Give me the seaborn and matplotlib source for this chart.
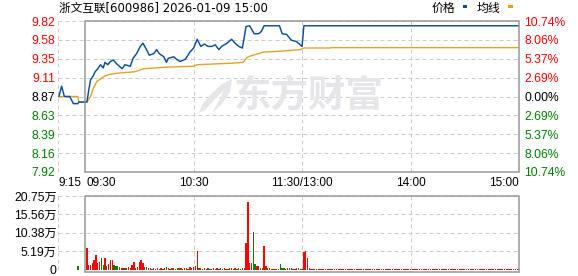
import matplotlib
matplotlib.use("Agg")
import matplotlib.pyplot as plt
from matplotlib.patches import Rectangle, Polygon
from matplotlib.lines import Line2D
import matplotlib.transforms as mtrans
import pandas as pd
import seaborn as sns

# ---------------- data ----------------
title_text = "浙文互联[600986] 2026-01-09 15:00"
prev_close = 8.87

price_tick_values = [9.82, 9.5825, 9.345, 9.1075, 8.87, 8.6325, 8.395, 8.1575, 7.92]
price_tick_labels = ["9.82", "9.58", "9.35", "9.11", "8.87", "8.63", "8.39", "8.16", "7.92"]
pct_tick_labels = ["10.74%", "8.06%", "5.37%", "2.69%", "0.00%", "2.69%", "5.37%", "8.06%", "10.74%"]

vol_tick_values = [20.75, 15.56, 10.38, 5.19, 0]
vol_tick_labels = ["20.75万", "15.56万", "10.38万", "5.19万", "0"]

time_label_minutes = [-15, 0, 60, 120, 180, 240]
time_labels = ["9:15", "09:30", "10:30", "11:30/13:00", "14:00", "15:00"]

# price line (minutes from 09:30, trading minutes; 13:00 follows 11:30)
price_minutes = [-14.5, -13, -11.5, -8.5, -6.5, -4, -3.5, 1, 2, 3, 4.5, 5.5, 7, 8.5, 10, 11,
                 12.5, 14, 15.5, 17.5, 20.5, 22, 25, 26.5, 28.5, 30.5, 32, 33.5, 35.5, 38,
                 39.5, 41, 43.5, 45, 46, 49, 50.5, 52.5, 55.5, 58, 60, 62, 64, 66, 68, 70,
                 72, 74, 75.5, 78.5, 81, 83, 85, 87, 89, 91, 93.5, 96, 97.5, 99, 107.5, 109,
                 111.5, 114, 117, 120, 121, 240]
price_values = [8.87, 9.00, 8.87, 8.87, 8.78, 8.78, 8.80, 8.80, 8.95, 9.08, 9.13, 9.18, 9.22,
                9.27, 9.23, 9.30, 9.27, 9.31, 9.33, 9.28, 9.22, 9.27, 9.25, 9.35, 9.41, 9.50,
                9.54, 9.48, 9.39, 9.41, 9.46, 9.41, 9.37, 9.30, 9.35, 9.37, 9.34, 9.31, 9.34,
                9.43, 9.48, 9.59, 9.50, 9.53, 9.50, 9.50, 9.52, 9.46, 9.50, 9.54, 9.59, 9.54,
                9.50, 9.48, 9.75, 9.76, 9.66, 9.66, 9.69, 9.76, 9.76, 9.66, 9.65, 9.58, 9.56,
                9.50, 9.76, 9.76]

avg_minutes = [-14.5, -4, -3.5, 1, 3, 4.5, 6.5, 8.5, 11, 14, 17, 21, 27, 30, 32.5, 39, 45,
               52, 60, 62, 82, 87.5, 89.5, 91.5, 99, 108, 119, 121, 135, 136.5, 240]
avg_values = [8.87, 8.87, 8.80, 8.80, 8.87, 8.97, 9.06, 9.09, 9.13, 9.15, 9.16, 9.17, 9.18,
              9.20, 9.22, 9.23, 9.24, 9.245, 9.25, 9.27, 9.29, 9.30, 9.36, 9.38, 9.43, 9.44,
              9.46, 9.48, 9.48, 9.485, 9.485]

# volume (万) : auction bar, then one bar per trading minute 1..240
auction_minute = -4
auction_volume = 1.0
auction_dir = "d"
trade_volumes = [
    6.2, 1.2, 1.4, 1.8, 2.7, 4.1, 1.9, 2.1, 3.3, 1.2,
    3.3, 1.0, 1.6, 2.6, 2.6, 1.2, 0.9, 1.0, 0.8, 0.4,
    0.5, 0.3, 0.5, 0.8, 0.5, 1.2, 2.1, 0.3, 0.6, 2.1,
    2.7, 1.8, 0.6, 0.8, 0.3, 0.3, 0.2, 0.3, 0.2, 0.3,
    0.2, 0.3, 0.2, 0.3, 0.6, 0.3, 0.2, 0.4, 0.3, 0.2,
    0.3, 0.5, 0.3, 0.2, 0.3, 0.3, 0.2, 0.6, 0.4, 0.7,
    1.0, 5.1, 0.3, 0.3, 0.2, 0.3, 0.2, 0.3, 0.2, 0.2,
    0.3, 0.2, 0.3, 0.2, 0.3, 0.2, 0.3, 0.2, 0.2, 0.3,
    0.5, 0.2, 0.3, 0.2, 0.3, 0.2, 0.3, 0.3, 7.4, 19.1,
    1.9, 1.9, 10.7, 1.6, 1.0, 1.0, 0.4, 0.4, 6.7, 1.0,
    0.3, 0.5, 0.2, 0.2, 0.2, 0.2, 0.2, 1.5, 0.4, 0.3,
    0.2, 0.3, 0.4, 0.3, 0.2, 0.2, 0.3, 0.3, 0.2, 0.2,
    5.0, 5.3, 3.3, 0.3, 0.2, 0.2, 0.2, 0.2, 0.2, 0.2,
    0.2, 0.2, 0.1, 0.2, 0.2, 0.2, 0.1, 0.2, 0.2, 0.2,
    0.2, 0.1, 0.2, 0.2, 0.2, 0.2, 0.2, 0.1, 0.2, 0.2,
    0.2, 0.2, 0.2, 0.1, 0.2, 0.2, 0.2, 0.2, 0.1, 0.2,
    0.1, 0.2, 0.2, 0.2, 0.2, 0.1, 0.2, 0.2, 0.2, 0.2,
    0.2, 0.2, 0.1, 0.2, 0.2, 0.2, 0.2, 0.2, 0.1, 0.2,
    0.2, 0.1, 0.2, 0.2, 0.2, 0.1, 0.2, 0.2, 0.2, 0.2,
    0.2, 0.2, 0.2, 0.2, 0.1, 0.2, 0.2, 0.1, 0.2, 0.2,
    0.1, 0.2, 0.2, 0.2, 0.2, 0.2, 0.1, 0.2, 0.2, 0.2,
    0.2, 0.2, 0.1, 0.2, 0.2, 0.2, 0.2, 0.2, 0.2, 0.1,
    0.2, 0.2, 0.2, 0.1, 0.2, 0.2, 0.2, 0.2, 0.2, 0.2,
    0.2, 0.1, 0.2, 0.2, 0.2, 0.2, 0.1, 0.2, 0.2, 0.2,
]
trade_dirs = (
    "uuuuuuuudd" "uduuuddduu" "uduuuuuduu" "uudduuuduu" "uuuuduuduu"
    "uduuuduuuu" "uududuudud" "uduuduuduu" "ududduduuu" "uudduuduuu"
    "duuuuuuddd" "uuduuuuduu" "uuuuuuuuuu" "uuuuuuuuuu" "uuuuuuuuuu"
    "uuuuuuuuuu" "uuuuuuuuuu" "uuuuuuuuuu" "uuuuuuuuuu" "uuuuuuuuuu"
    "uuuuuuuuuu" "uuuuuuuuuu" "uuuuuuuuuu" "uuuuuuuuuu"
)

# ---------------- style ----------------
RED = "#ff0000"
GREEN = "#008000"
BLUE = "#0a4f9e"
ORANGE = "#e0a526"
GRID = "#cccccc"
BORDER = "#999999"

sns.set_style("white")
plt.rcParams["font.family"] = ["Liberation Sans", "Noto Sans CJK SC", "DejaVu Sans"]

W, H = 578, 276
fig = plt.figure(figsize=(W / 100, H / 100), dpi=100)


def fx(px):
    return px / W


def fy(py):
    return 1 - py / H


L, R = 58, 519
ax = fig.add_axes([fx(L), fy(172), fx(R) - fx(L), fy(21) - fy(172)])
axv = fig.add_axes([fx(L), fy(269.5), fx(R) - fx(L), fy(196) - fy(269.5)])

for a in (ax, axv):
    a.set_facecolor("none")
    for s in a.spines.values():
        s.set_visible(False)
    a.set_xlim(-15, 240)
    a.tick_params(left=False, bottom=False, labelbottom=False)

dash = (0, (4, 3))

# watermark
fig.text(fx(309), fy(96), "东方财富", family=["Noto Sans CJK SC"], fontsize=27,
         fontweight="bold", color="#e6e6ea", ha="center", va="center", zorder=0)
logo = Polygon([(fx(p[0]), fy(p[1])) for p in
                [(232, 79), (222, 84), (210, 95), (202, 105), (199, 113), (205, 110),
                 (214, 100), (224, 90), (219, 101), (212, 113), (222, 104), (230, 92)]],
               closed=True, transform=fig.transFigure, fc="#e6e6ea", ec="none", zorder=0)
fig.patches.append(logo)

# ---- main price panel ----
ax.set_ylim(7.92, 9.82)
for v in price_tick_values:
    ax.axhline(v, color=GRID, lw=0.72, ls=dash, zorder=1)
for m in [-15, 60, 120, 180]:
    ax.axvline(m, color=GRID, lw=0.72, ls=dash, zorder=1)
ax.add_patch(Rectangle((0, 7.92), 240, 1.90, fill=False, ec=BORDER, lw=1.1,
                       clip_on=False, zorder=6))

df_price = pd.DataFrame({"minute": price_minutes, "price": price_values})
df_avg = pd.DataFrame({"minute": avg_minutes, "avg": avg_values})
sns.lineplot(data=df_avg, x="minute", y="avg", ax=ax, color=ORANGE, lw=1.0, zorder=3)
sns.lineplot(data=df_price, x="minute", y="price", ax=ax, color=BLUE, lw=1.05, zorder=4)
ax.set_xlabel("")
ax.set_ylabel("")

ax.set_yticks(price_tick_values)
ax.set_yticklabels(price_tick_labels, fontsize=8.7)
ax.tick_params(axis="y", length=0, pad=2)
for lab, v in zip(ax.get_yticklabels(), price_tick_values):
    lab.set_color(RED if v > prev_close + 1e-6 else (GREEN if v < prev_close - 1e-6 else "black"))

axr = ax.twinx()
axr.set_ylim(ax.get_ylim())
for s in axr.spines.values():
    s.set_visible(False)
axr.set_yticks(price_tick_values)
axr.set_yticklabels(pct_tick_labels, fontsize=8.7)
axr.tick_params(axis="y", length=0, pad=4)
for lab, v in zip(axr.get_yticklabels(), price_tick_values):
    lab.set_color(RED if v > prev_close + 1e-6 else (GREEN if v < prev_close - 1e-6 else "black"))

trans = mtrans.blended_transform_factory(ax.transData, ax.transAxes)
for m, t in zip(time_label_minutes, time_labels):
    ha = "left" if m <= 0 else ("right" if m >= 240 else "center")
    xm = m + 0.6 if m == 0 else m
    ax.text(xm, -11 / 151, t, transform=trans, ha=ha, va="center", fontsize=8.5,
            color="black")

# ---- volume panel ----
vol_minutes = [auction_minute] + list(range(1, 241))
vol_values = [auction_volume] + trade_volumes
vol_dirs = [auction_dir] + list(trade_dirs)
df_vol = pd.DataFrame({"minute": vol_minutes, "vol": vol_values,
                       "dir": ["up" if d == "u" else "down" for d in vol_dirs]})

axv.set_ylim(0, 20.75)
for v in vol_tick_values:
    axv.axhline(v, color=GRID, lw=0.72, ls=dash, zorder=1)
for m in [-15, 60, 120, 180]:
    axv.axvline(m, color=GRID, lw=0.72, ls=dash, zorder=1)

sns.barplot(data=df_vol, x="minute", y="vol", hue="dir",
            palette={"up": RED, "down": GREEN}, native_scale=True, width=0.75,
            dodge=False, errorbar=None, legend=False, ax=axv, zorder=3,
            linewidth=0, edgecolor="none", saturation=1, antialiased=False)
axv.set_xlim(-15, 240)
axv.set_ylim(0, 20.75)
axv.set_xlabel("")
axv.set_ylabel("")
axv.plot([0, 0, 240, 240], [0, 20.75, 20.75, 0], color=BORDER, lw=1.1,
         clip_on=False, zorder=6)
fig.lines.append(Line2D([fx(85), fx(519)], [fy(272), fy(272)], transform=fig.transFigure,
                        color=BORDER, lw=1.1))
fig.lines.append(Line2D([fx(85), fx(85)], [fy(269.5), fy(272)], transform=fig.transFigure,
                        color=BORDER, lw=1.1))
fig.lines.append(Line2D([fx(519), fx(519)], [fy(269.5), fy(272)], transform=fig.transFigure,
                        color=BORDER, lw=1.1))

axv.set_yticks(vol_tick_values)
axv.set_yticklabels(vol_tick_labels, fontsize=8.7, color="black")
axv.tick_params(axis="y", length=0, pad=1)
axv.tick_params(axis="x", bottom=False, labelbottom=False)

# ---- title & legend ----
fig.text(fx(59), fy(8.5), title_text, family=["DejaVu Sans", "Noto Sans CJK SC"],
         fontsize=8.4, ha="left", va="center", color="black")
fig.text(fx(432), fy(8.5), "价格", family=["Noto Sans CJK SC"], fontsize=8.6,
         ha="left", va="center", color="black")
fig.text(fx(477), fy(8.5), "均线", family=["Noto Sans CJK SC"], fontsize=8.6,
         ha="left", va="center", color="black")
fig.patches.append(Rectangle((fx(462.5), fy(7.5)), fx(4.5), 2.0 / H, transform=fig.transFigure,
                             fc=BLUE, ec="none"))
fig.patches.append(Rectangle((fx(508), fy(7.5)), fx(4.5), 2.0 / H, transform=fig.transFigure,
                             fc=ORANGE, ec="none"))

fig.savefig("out.png", dpi=100, facecolor="white")
